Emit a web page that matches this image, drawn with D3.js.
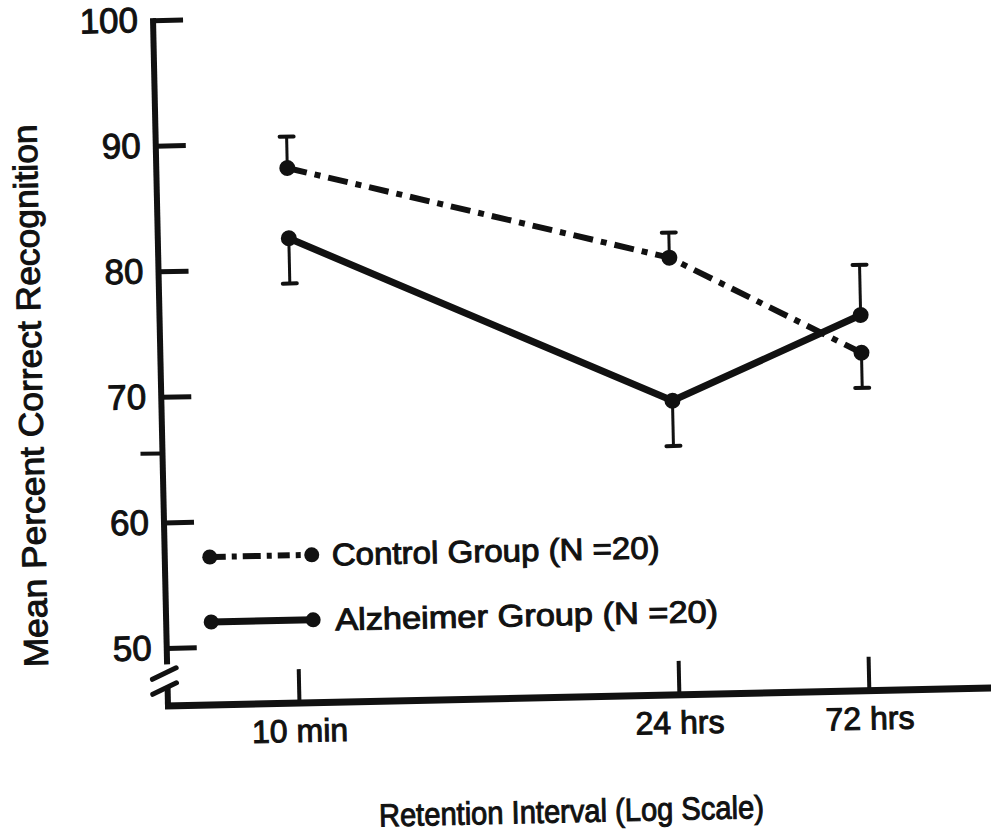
<!DOCTYPE html>
<html>
<head>
<meta charset="utf-8">
<script src="https://cdn.jsdelivr.net/npm/d3@7"></script>
<style>
  body { margin: 0; background: #fff; }
  svg { display: block; }
  text { font-family: "Liberation Sans", Arial, sans-serif; fill: #111; stroke: #111; stroke-width: 1px; }
</style>
</head>
<body>
<div id="chart"></div>
<script>
// retention intervals, and where they sit along the (log) axis
const intervals = ['10 min', '24 hrs', '72 hrs'];
const axisPos = [0, 2, 3];

// mean percent correct recognition
const control = [88.0, 80.2, 72.3];
const controlErr = [2.5, 2.0, 2.8];
const controlErrDir = [1, 1, -1];

const alzheimer = [82.4, 68.8, 75.3];
const alzheimerErr = [3.6, 3.6, 4.0];
const alzheimerErrDir = [-1, -1, 1];

const yTicks = [50, 60, 70, 80, 90, 100];
const legendLabels = ['Control Group (N =20)', 'Alzheimer Group (N =20)'];

const width = 991;
const height = 832;
const ox = 168, oy = 706; // axes corner

const svg = d3
  .select('#chart')
  .append('svg')
  .attr('width', width)
  .attr('height', height);

// the scanned figure is slightly tilted
const g = svg.append('g').attr('transform', `rotate(-1.25,${ox},${oy})`);

const x = d3.scaleLinear().domain([0, 3]).range([299, 869]);
const y = d3.scaleLinear().domain([50, 100]).range([648, 20]);

// y axis
const yAxis = g
  .append('g')
  .attr('transform', `translate(${ox},0)`)
  .call(
    d3.axisLeft(y)
      .tickValues(yTicks)
      .tickSizeInner(-30)
      .tickSizeOuter(0)
      .tickPadding(15)
  );
yAxis.select('.domain').remove();
yAxis.selectAll('.tick line').attr('stroke', '#111').attr('stroke-width', 5);
yAxis
  .selectAll('.tick text')
  .attr('font-size', 35)
  .attr('font-family', null);

// minor mark on the left of the axis
g.append('line')
  .attr('x1', ox - 22)
  .attr('x2', ox)
  .attr('y1', y(65.5))
  .attr('y2', y(65.5))
  .attr('stroke', '#111')
  .attr('stroke-width', 4);

// y axis line, broken near the bottom
g.append('line')
  .attr('x1', ox).attr('x2', ox)
  .attr('y1', y(100) - 2).attr('y2', y(48.7))
  .attr('stroke', '#111').attr('stroke-width', 6);
g.append('line')
  .attr('x1', ox).attr('x2', ox)
  .attr('y1', oy - 19).attr('y2', oy + 3)
  .attr('stroke', '#111').attr('stroke-width', 6);
[0, 15].forEach((d) => {
  g.append('line')
    .attr('x1', ox - 15).attr('y1', oy - 27 + d)
    .attr('x2', ox + 9).attr('y2', oy - 38 + d)
    .attr('stroke', '#111').attr('stroke-width', 5)
    .attr('stroke-linecap', 'round');
});

// x axis
const xAxis = g
  .append('g')
  .attr('transform', `translate(0,${oy})`)
  .call(
    d3.axisBottom(x)
      .tickValues(axisPos)
      .tickFormat((d, i) => intervals[i])
      .tickSizeInner(-34)
      .tickSizeOuter(0)
      .tickPadding(16)
  );
xAxis.select('.domain').remove();
xAxis.selectAll('.tick line').attr('stroke', '#111').attr('stroke-width', 4);
xAxis
  .selectAll('.tick text')
  .attr('font-size', 32)
  .attr('font-family', null);

g.append('line')
  .attr('x1', ox - 3).attr('x2', width + 20)
  .attr('y1', oy).attr('y2', oy)
  .attr('stroke', '#111').attr('stroke-width', 7);

// axis titles
g.append('text')
  .attr('x', 569)
  .attr('y', 831)
  .attr('text-anchor', 'middle')
  .attr('font-size', 32)
  .attr('textLength', 385)
  .attr('lengthAdjust', 'spacingAndGlyphs')
  .text('Retention Interval (Log Scale)');

g.append('text')
  .attr('transform', 'translate(49,393) rotate(-90)')
  .attr('text-anchor', 'middle')
  .attr('font-size', 34)
  .attr('textLength', 543)
  .attr('lengthAdjust', 'spacingAndGlyphs')
  .text('Mean Percent Correct Recognition');

// series
const series = [
  { name: legendLabels[0], values: control, err: controlErr, dir: controlErrDir, dash: '20,8,6,8', sw: 6 },
  { name: legendLabels[1], values: alzheimer, err: alzheimerErr, dir: alzheimerErrDir, dash: null, sw: 7 },
];

const line = d3
  .line()
  .x((d) => x(d[0]))
  .y((d) => y(d[1]));

series.forEach((s) => {
  const pts = s.values.map((v, i) => [axisPos[i], v]);

  // error bars (one sided)
  pts.forEach((p, i) => {
    const end = p[1] + s.dir[i] * s.err[i];
    g.append('line')
      .attr('x1', x(p[0])).attr('x2', x(p[0]))
      .attr('y1', y(p[1])).attr('y2', y(end))
      .attr('stroke', '#111').attr('stroke-width', 3);
    g.append('line')
      .attr('x1', x(p[0]) - 7).attr('x2', x(p[0]) + 7)
      .attr('y1', y(end)).attr('y2', y(end))
      .attr('stroke', '#111').attr('stroke-width', 4)
      .attr('stroke-linecap', 'round');
  });

  g.append('path')
    .datum(pts)
    .attr('fill', 'none')
    .attr('stroke', '#111')
    .attr('stroke-width', s.sw)
    .attr('stroke-dasharray', s.dash)
    .attr('d', line);

  g.selectAll(null)
    .data(pts)
    .enter()
    .append('circle')
    .attr('cx', (d) => x(d[0]))
    .attr('cy', (d) => y(d[1]))
    .attr('r', 8)
    .attr('fill', '#111');
});

// legend
const legend = g.append('g').attr('transform', 'translate(213,558)');
const legendLen = [328, 383];
series.forEach((s, i) => {
  const ly = i * 65;
  legend.append('line')
    .attr('x1', 0).attr('x2', 102)
    .attr('y1', ly).attr('y2', ly)
    .attr('stroke', '#111')
    .attr('stroke-width', s.sw)
    .attr('stroke-dasharray', s.dash ? '12,6,5,6,18,6,5,6' : null)
    .attr('stroke-dashoffset', s.dash ? -4 : 0);
  [0, 102].forEach((cx) => {
    legend.append('circle')
      .attr('cx', cx).attr('cy', ly).attr('r', 7.5)
      .attr('fill', '#111');
  });
  legend.append('text')
    .attr('x', 122 + i * 2)
    .attr('y', ly + 11)
    .attr('font-size', 31)
    .attr('textLength', legendLen[i])
    .attr('lengthAdjust', 'spacingAndGlyphs')
    .text(s.name);
});
</script>
</body>
</html>
